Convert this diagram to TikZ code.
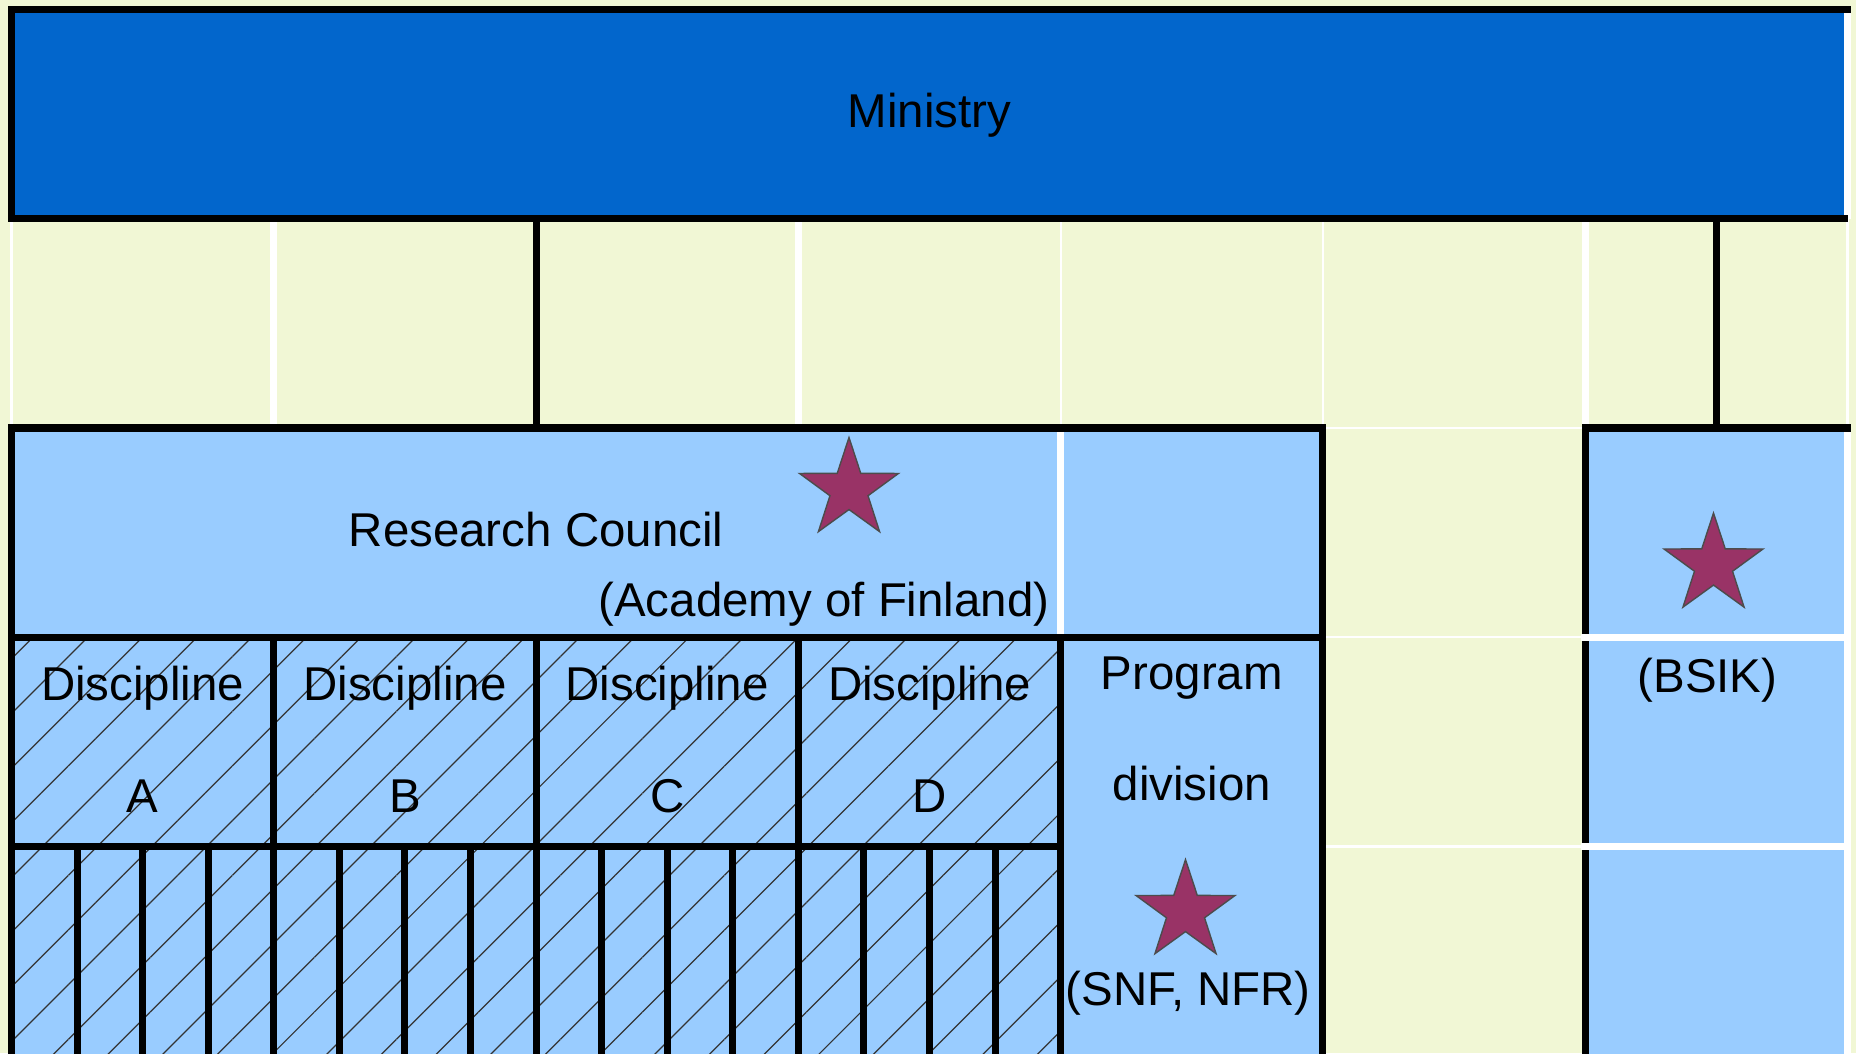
\documentclass[tikz,border=0pt]{standalone}
\usepackage{fontspec}
\setmainfont{Liberation Sans}
\usetikzlibrary{patterns.meta}
\usetikzlibrary{shapes.geometric}
\definecolor{ministryblue}{RGB}{2,102,204}
\definecolor{cellblue}{RGB}{153,204,255}
\definecolor{paleyellow}{RGB}{241,247,213}
\definecolor{starred}{RGB}{153,51,102}

\begin{document}
\begin{tikzpicture}[x=2.6229cm, y=-2.0925cm,
  blackline/.style={line width=2pt, black},
  whiteline/.style={line width=2pt, white},
  thinwhite/.style={line width=0.6pt, white},
  hatch/.style={pattern={Lines[angle=45,distance=11pt,line width=0.35pt]}, pattern color=black!80},
  starmark/.style={star, star points=5, star point ratio=2.6, minimum size=1.04cm, inner sep=0pt, fill=starred, draw=black!70, line width=0.4pt},
  lbl/.style={inner sep=0pt, font=\fontsize{13.5}{16}\selectfont}]
\useasboundingbox (0cm,0cm) rectangle (18.56cm,-10.53cm);
\clip (0cm,0cm) rectangle (18.56cm,-10.53cm);
\fill[paleyellow] (0cm,0cm) rectangle (18.56cm,-10.53cm);
\begin{scope}[shift={(0.115cm,-0.095cm)}]
\fill[ministryblue] (0,0) rectangle (7,1);
\fill[cellblue] (0,2) rectangle (5,5.2);
\fill[cellblue] (6,2) rectangle (7,5.2);
\fill[hatch] (0,3) rectangle (4,5.2);

\foreach \c in {0,4,5,7} \draw[thinwhite] (\c,1) -- (\c,2);
\foreach \c in {1,3,6} \draw[whiteline] (\c,1) -- (\c,2);
\foreach \r in {2,3,4} \draw[thinwhite] (5,\r) -- (6,\r);
\draw[whiteline] (4,2) -- (4,3);
\draw[whiteline] (7,0) -- (7,1);
\draw[whiteline] (7,2) -- (7,5.2);

\draw[blackline] (7.013,0) -- (0,0) -- (0,1) -- (7.002,1);
\draw[blackline] (5,5.2) -- (5,2) -- (0,2) -- (0,5.2);
\draw[blackline] (0,3) -- (5,3);
\draw[blackline] (0,4) -- (4,4);
\foreach \c in {1,...,4} \draw[blackline] (\c,3) -- (\c,5.2);
\foreach \c in {0,...,3} {
 \foreach \k in {0.25,0.5,0.75} \draw[blackline] (\c+\k,4) -- (\c+\k,5.2);
}
\draw[blackline] (6,5.2) -- (6,2) -- (7.013,2);
\foreach \r in {3,4} \draw[whiteline] (5.985,\r) -- (7,\r);

\coordinate (ministry-s) at (2,1);
\coordinate (council-n) at (2,2);
\coordinate (ministry-se) at (6.5,1);
\coordinate (bsik-n) at (6.5,2);
\draw[blackline] (ministry-s) -- (council-n);
\draw[blackline] (ministry-se) -- (bsik-n);

\node[lbl, anchor=base] (ministry) at (3.5,0.565) {Ministry};
\node[lbl, anchor=base] (council) at (2,2.567) {Research Council};
\node[lbl, anchor=base east] (academy) at (3.96,2.902) {(Academy of Finland)};
\foreach \c/\d in {0/A,1/B,2/C,3/D} {
 \node[lbl, anchor=base] (disc\d) at (\c+0.5,3.304) {Discipline};
 \node[lbl, anchor=base] (letter\d) at (\c+0.5,3.838) {\d};
}
\node[lbl, anchor=base] (program) at (4.5,3.25) {Program};
\node[lbl, anchor=base] (division) at (4.5,3.782) {division};
\node[lbl, anchor=base] (snf) at (4.486,4.762) {(SNF, NFR)};
\node[lbl, anchor=base] (bsik) at (6.466,3.265) {(BSIK)};

\node[starmark] (star-council) at (3.193,2.294) {};
\node[starmark] (star-program) at (4.476,4.311) {};
\node[starmark] (star-bsik) at (6.489,2.655) {};
\end{scope}
\end{tikzpicture}
\end{document}
